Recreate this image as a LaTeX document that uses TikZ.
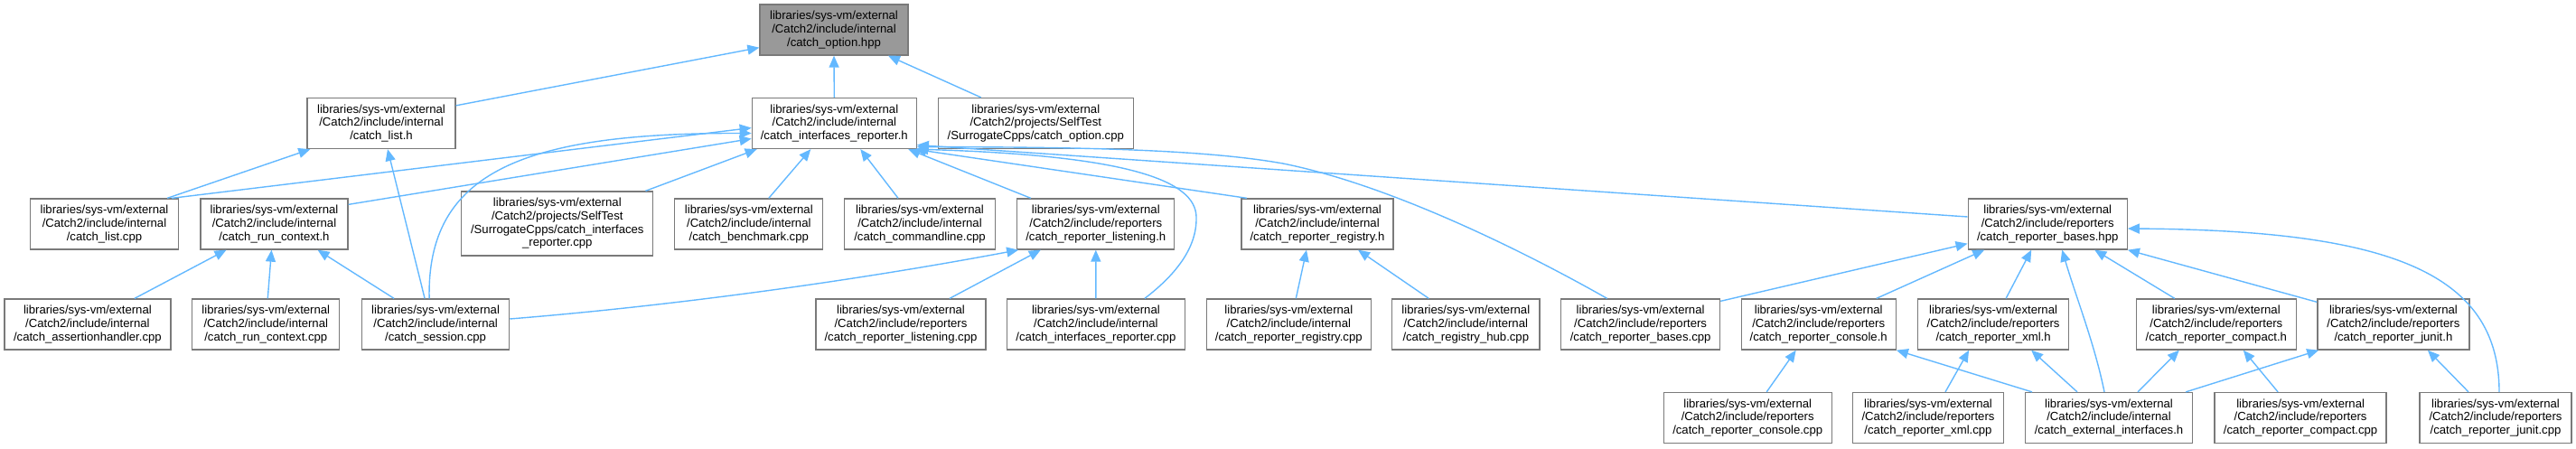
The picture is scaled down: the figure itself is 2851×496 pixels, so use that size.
\documentclass[tikz,border=0pt]{standalone}
\usepackage{fontspec}
\setmainfont{Liberation Sans}
\usetikzlibrary{arrows.meta,calc}
\definecolor{edgec}{HTML}{63B8FF}
\definecolor{bord}{HTML}{7A7A7A}
\definecolor{rootfill}{HTML}{999999}
\newcommand{\pathint}[1]{libraries/sys-vm/external\\/Catch2/include/internal\\/#1}
\newcommand{\pathrep}[1]{libraries/sys-vm/external\\/Catch2/include/reporters\\/#1}
\begin{document}
\begin{tikzpicture}[x=1pt,y=-1pt,
  box/.style={draw=bord,line width=1.3pt,fill=white,inner sep=0pt,align=center,minimum height=56pt,font=\fontsize{13.15}{14.7}\selectfont},
  rootbox/.style={box,fill=rootfill},
  edge/.style={draw=edgec,line width=1.4pt,-{Triangle[length=13pt,width=11pt]}},
]
\useasboundingbox (0,0) rectangle (2851,496);
% row 0
\node[rootbox,minimum width=164pt] (root) at (923,33) {\pathint{catch\_option.hpp}};
% row 1
\node[box,minimum width=164pt] (listh) at (422,136.5) {\pathint{catch\_list.h}};
\node[box,minimum width=182pt] (ifreph) at (923.3,136.5) {\pathint{catch\_interfaces\_reporter.h}};
\node[box,minimum width=216pt] (optcpp) at (1146.3,136.5) {libraries/sys-vm/external\\/Catch2/projects/SelfTest\\/SurrogateCpps/catch\_option.cpp};
% row 2
\node[box,minimum width=164pt] (listcpp) at (115.5,248) {\pathint{catch\_list.cpp}};
\node[box,minimum width=163pt] (runctxh) at (303.5,248) {\pathint{catch\_run\_context.h}};
\node[box,minimum width=212pt,minimum height=71pt] (surr) at (616.8,247.5) {libraries/sys-vm/external\\/Catch2/projects/SelfTest\\/SurrogateCpps/catch\_interfaces\\\_reporter.cpp};
\node[box,minimum width=164pt] (bench) at (828.8,248) {\pathint{catch\_benchmark.cpp}};
\node[box,minimum width=167pt] (cmdline) at (1018,248) {\pathint{catch\_commandline.cpp}};
\node[box,minimum width=174pt] (listenh) at (1212.8,248) {\pathrep{catch\_reporter\_listening.h}};
\node[box,minimum width=168pt] (regh) at (1458,248) {\pathint{catch\_reporter\_registry.h}};
\node[box,minimum width=176pt] (baseshpp) at (2266.2,248) {\pathrep{catch\_reporter\_bases.hpp}};
% row 3
\node[box,minimum width=184pt] (assert) at (96.9,359) {\pathint{catch\_assertionhandler.cpp}};
\node[box,minimum width=163pt] (runctxcpp) at (294.3,359) {\pathint{catch\_run\_context.cpp}};
\node[box,minimum width=163pt] (session) at (482.1,359) {\pathint{catch\_session.cpp}};
\node[box,minimum width=188pt] (listencpp) at (997,359) {\pathrep{catch\_reporter\_listening.cpp}};
\node[box,minimum width=196.5pt] (ifrepcpp) at (1212.9,359) {\pathint{catch\_interfaces\_reporter.cpp}};
\node[box,minimum width=182pt] (regcpp) at (1426.3,359) {\pathint{catch\_reporter\_registry.cpp}};
\node[box,minimum width=163.5pt] (hub) at (1622.3,359) {\pathint{catch\_registry\_hub.cpp}};
\node[box,minimum width=176pt] (basescpp) at (1815.6,359) {\pathrep{catch\_reporter\_bases.cpp}};
\node[box,minimum width=171pt] (consoleh) at (2012.7,359) {\pathrep{catch\_reporter\_console.h}};
\node[box,minimum width=167pt] (xmlh) at (2206.1,359) {\pathrep{catch\_reporter\_xml.h}};
\node[box,minimum width=177pt] (compacth) at (2452.8,359) {\pathrep{catch\_reporter\_compact.h}};
\node[box,minimum width=168pt] (junith) at (2648.9,359) {\pathrep{catch\_reporter\_junit.h}};
% row 4
\node[box,minimum width=186pt] (consolecpp) at (1934.2,462.5) {\pathrep{catch\_reporter\_console.cpp}};
\node[box,minimum width=167pt] (xmlcpp) at (2134,462.5) {\pathrep{catch\_reporter\_xml.cpp}};
\node[box,minimum width=185pt] (ext) at (2334,462.5) {\pathint{catch\_external\_interfaces.h}};
\node[box,minimum width=190pt] (compactcpp) at (2546.1,462.5) {\pathrep{catch\_reporter\_compact.cpp}};
\node[box,minimum width=168pt] (junitcpp) at (2762,462.5) {\pathrep{catch\_reporter\_junit.cpp}};
% edges
\draw[edge] ($(listh.north east)+(0,9)$) -- ($(root.south west)+(0,-9)$);
\draw[edge] (ifreph.north) -- (root.south);
\draw[edge] ($(optcpp.north)+(-60.6,0)$) -- ($(root.south)+(60,0)$);
\draw[edge] ($(listcpp.north east)+(-13,0)$) -- ($(listh.south west)+(4,0)$);
\draw[edge] ($(listcpp.north east)+(-8,0)$) -- ($(ifreph.west)+(0,5)$);
\draw[edge] ($(runctxh.north east)+(0,7)$) -- ($(ifreph.west)+(0,17)$);
\draw[edge] ($(session.north)+(-7,0)$) .. controls (472,190) and (580,147) .. ($(ifreph.west)+(0,11)$);
\draw[edge] ($(session.north)+(-12,0)$) -- ($(listh.south)+(7,0)$);
\draw[edge] ($(surr.north east)+(-9,0)$) -- ($(ifreph.south west)+(6,0)$);
\draw[edge] ($(bench.north)+(22,0)$) -- ($(ifreph.south)+(-26,0)$);
\draw[edge] ($(cmdline.north)+(-24,0)$) -- ($(ifreph.south)+(29,0)$);
\draw[edge] ($(listenh.north)+(-72,0)$) -- ($(ifreph.south)+(82,0)$);
\draw[edge] ($(regh.north)+(-78,0)$) -- ($(ifreph.south east)+(-3,0)$);
\draw[edge] ($(baseshpp.west)+(0,-8)$) -- ($(ifreph.east)+(0,24)$);
\draw[edge] ($(basescpp.north)+(-37,0)$) .. controls (1690,280) and (1540,205) .. (1420,181) .. controls (1320,163) and (1150,163) .. ($(ifreph.east)+(0,26)$);
\draw[edge] ($(ifrepcpp.north)+(54,0)$) .. controls (1300,305) and (1325,275) .. (1324,240) .. controls (1323,200) and (1250,172) .. ($(ifreph.south east)+(-1,0)$);
\draw[edge] ($(assert.north)+(52,0)$) -- ($(runctxh.south)+(-53,0)$);
\draw[edge] ($(runctxcpp.north)+(2,0)$) -- ($(runctxh.south)+(-3,0)$);
\draw[edge] ($(session.north)+(-46,0)$) -- ($(runctxh.south)+(48,0)$);
\draw[edge] ($(session.east)+(0,-6)$) .. controls (750,338) and (950,310) .. ($(listenh.south west)+(2,0)$);
\draw[edge] ($(listencpp.north)+(54,0)$) -- ($(listenh.south)+(-61,0)$);
\draw[edge] (ifrepcpp.north) -- (listenh.south);
\draw[edge] ($(regcpp.north)+(8,0)$) -- ($(regh.south)+(-12,0)$);
\draw[edge] ($(hub.north)+(-41,0)$) -- ($(regh.south)+(45,0)$);
\draw[edge] ($(basescpp.north east)+(0,3)$) -- ($(baseshpp.south west)+(0,-7)$);
\draw[edge] ($(consoleh.north)+(64,0)$) -- ($(baseshpp.south)+(-70,0)$);
\draw[edge] ($(xmlh.north)+(14,0)$) -- ($(baseshpp.south)+(-18,0)$);
\draw[edge] ($(ext.north)+(-5,0)$) .. controls (2318,380) and (2298,330) .. ($(baseshpp.south)+(16,0)$);
\draw[edge] ($(compacth.north)+(-46,0)$) -- ($(baseshpp.south)+(52,0)$);
\draw[edge] ($(junith.north west)+(0,4)$) -- (baseshpp.south east);
\draw[edge] ($(junitcpp.north)+(4,0)$) .. controls (2766,300) and (2640,255) .. ($(baseshpp.east)+(0,5)$);
\draw[edge] ($(consolecpp.north)+(21,0)$) -- ($(consoleh.south)+(-25,0)$);
\draw[edge] ($(ext.north)+(-85,0)$) -- (consoleh.south east);
\draw[edge] ($(xmlcpp.north)+(19,0)$) -- ($(xmlh.south)+(-27,0)$);
\draw[edge] ($(ext.north)+(-35,0)$) -- ($(xmlh.south)+(42,0)$);
\draw[edge] ($(ext.north)+(32,0)$) -- ($(compacth.south)+(-41,0)$);
\draw[edge] ($(compactcpp.north)+(-25,0)$) -- ($(compacth.south)+(30,0)$);
\draw[edge] ($(ext.north east)+(-8,0)$) -- ($(junith.south west)+(2,0)$);
\draw[edge] ($(junitcpp.north)+(-30,0)$) -- ($(junith.south)+(38,0)$);
\end{tikzpicture}
\end{document}
